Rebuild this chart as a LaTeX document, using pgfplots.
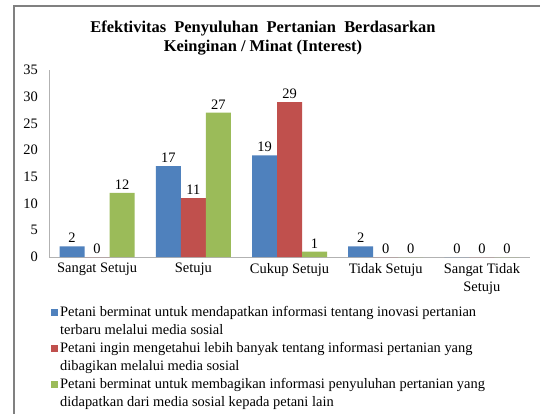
\documentclass[border=0pt]{standalone}
\usepackage{pgfplots}
\pgfplotsset{compat=1.18}
\usepackage{fontspec}
\setmainfont{Liberation Serif}
\definecolor{cblue}{HTML}{4F81BD}
\definecolor{cred}{HTML}{C0504D}
\definecolor{cgreen}{HTML}{9BBB59}
\begin{document}
\begin{tikzpicture}
\useasboundingbox (-49bp,-157bp) rectangle (491bp,257bp);
\fill[white] (-49bp,-157bp) rectangle (491bp,257bp);
\draw[line width=1.2bp, gray] (-35bp,-170bp) -- (-35bp,251bp) -- (510bp,251bp);
\node[font=\fontsize{16.5}{19.5}\selectfont\bfseries, align=center] at (214bp,219bp) {Efektivitas\ \ Penyuluhan\ \ Pertanian\ \ Berdasarkan\\Keinginan / Minat (Interest)};
\begin{axis}[at={(0,0)}, anchor=south west, scale only axis, width=481bp, height=187bp,
 ymin=0, ymax=35, ytick={0,5,...,35}, xmin=-0.5, xmax=4.5, xtick={0,1,2,3,4},
 xticklabels={Sangat Setuju, Setuju, Cukup Setuju, Tidak Setuju, {Sangat Tidak\\Setuju}},
 axis x line=bottom, axis y line=left, axis line style={-, draw=gray!60, line width=0.8bp},
 major tick length=0pt,
 tick label style={font=\fontsize{14.5}{18}\selectfont},
 /pgf/number format/assume math mode=true,
 xticklabel style={align=center, inner sep=0pt, yshift=-6bp, anchor=north},
 yticklabel style={inner sep=0pt, anchor=east, xshift=-11bp},
 ybar, bar width=25bp,
 nodes near coords, nodes near coords style={font=\fontsize{14.5}{16}\selectfont, text=black},
 legend cell align=left,
 legend style={draw=none, fill=none, at={(axis description cs:0.003,-0.25)}, anchor=north west,
   font=\fontsize{14.5}{16}\selectfont, row sep=0pt, inner sep=0pt,
   nodes={inner xsep=2.5bp, inner ysep=2bp, text height=10.5bp, text depth=3.5bp}},
]
\addplot[fill=cblue, draw=none, bar shift=-25bp, legend image code/.code={\fill[cblue] (0bp,-3.5bp) rectangle (7bp,3.5bp);}] coordinates {(0,2) (1,17) (2,19) (3,2) (4,0)};
\addlegendentry{Petani berminat untuk mendapatkan informasi tentang inovasi pertanian}
\addlegendimage{empty legend}
\addlegendentry{terbaru melalui media sosial}
\addplot[fill=cred, draw=none, bar shift=0bp, legend image code/.code={\fill[cred] (0bp,-3.5bp) rectangle (7bp,3.5bp);}] coordinates {(0,0) (1,11) (2,29) (3,0) (4,0)};
\addlegendentry{Petani ingin mengetahui lebih banyak tentang informasi pertanian yang}
\addlegendimage{empty legend}
\addlegendentry{dibagikan melalui media sosial}
\addplot[fill=cgreen, draw=none, bar shift=25bp, legend image code/.code={\fill[cgreen] (0bp,-3.5bp) rectangle (7bp,3.5bp);}] coordinates {(0,12) (1,27) (2,1) (3,0) (4,0)};
\addlegendentry{Petani berminat untuk membagikan informasi penyuluhan pertanian yang}
\addlegendimage{empty legend}
\addlegendentry{didapatkan dari media sosial kepada petani lain}
\end{axis}
\end{tikzpicture}
\end{document}
